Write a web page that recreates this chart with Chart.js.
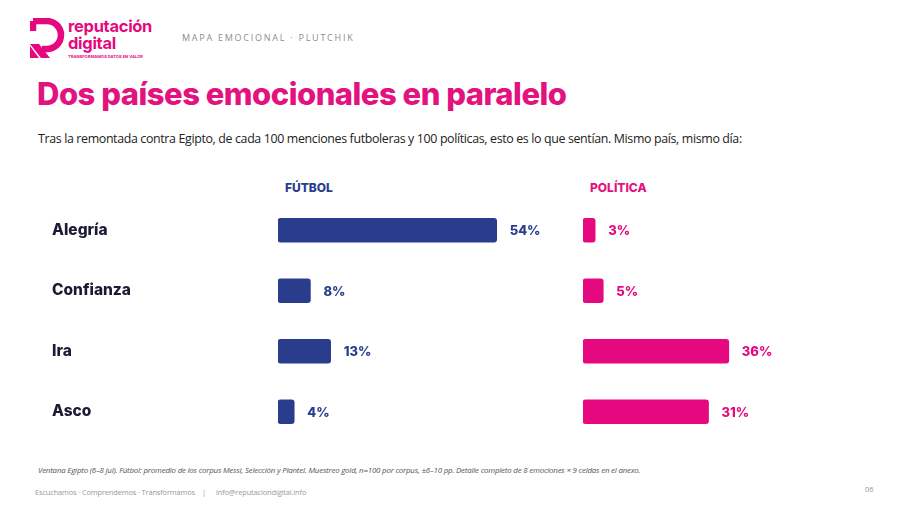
<!DOCTYPE html>
<html>
<head>
<meta charset="utf-8">
<script src="https://cdn.jsdelivr.net/npm/chart.js@4.4.1/dist/chart.umd.min.js"></script>
<style>
  html,body{margin:0;padding:0;background:#fff;}
  #page{position:relative;width:900px;height:505px;overflow:hidden;background:#fff;font-family:Inter,"Noto Sans",sans-serif;}
  .abs{position:absolute;white-space:nowrap;}
  #brand1{left:68px;top:17px;font:700 16.5px Inter,sans-serif;color:#e6087e;letter-spacing:-0.3px;line-height:18px;}
  #brand2{left:68px;top:34px;font:700 16.5px Inter,sans-serif;color:#e6087e;letter-spacing:-0.3px;line-height:18px;}
  #tag{left:68px;top:54px;font:700 4px Inter,sans-serif;color:#e6087e;letter-spacing:0.05px;}
  #kicker{left:182px;top:31px;font:400 9px "Open Sans",sans-serif;color:#8a8d93;letter-spacing:1.75px;}
  #title{left:37px;top:75px;font:800 31px Inter,sans-serif;color:#e2127f;letter-spacing:-0.5px;}
  #sub{left:38px;top:130px;font:400 12.4px "Open Sans",sans-serif;color:#222;letter-spacing:-0.35px;}
  #hf{left:285px;top:180px;font:800 12px Inter,sans-serif;color:#2a3d8c;}
  #hp{left:590px;top:180px;font:800 12px Inter,sans-serif;color:#e2127f;}
  #note{left:38px;top:465px;font:italic 400 7.9px "Open Sans",sans-serif;color:#555;letter-spacing:-0.2px;}
  .foot{top:487px;font:400 7.4px "Open Sans",sans-serif;color:#999;letter-spacing:-0.12px;}
  #pg{left:865px;top:484px;font:400 7.5px "Open Sans",sans-serif;color:#999;}
  #c1{position:absolute;left:0;top:200px;}
  #c2{position:absolute;left:560px;top:200px;}
</style>
</head>
<body>
<div id="page">
  <svg class="abs" style="left:30px;top:18px" width="36" height="42" viewBox="0 0 36 42">
    <path d="M3 3 H17 A14 14 0 0 1 17 31 H12" fill="none" stroke="#e6087e" stroke-width="6.5" stroke-linejoin="round"/>
    <path d="M3 3 V13" stroke="#e6087e" stroke-width="6.5"/>
    <path d="M0 26 L9 26 L20 40 L11 40 Z" fill="#e6087e"/>
    <path d="M0 28 V40 H9 Z" fill="#e6087e"/>
  </svg>
  <div class="abs" id="brand1">reputación</div>
  <div class="abs" id="brand2">digital</div>
  <div class="abs" id="tag">TRANSFORMAMOS DATOS EN VALOR</div>
  <div class="abs" id="kicker">MAPA EMOCIONAL · PLUTCHIK</div>
  <div class="abs" id="title">Dos países emocionales en paralelo</div>
  <div class="abs" id="sub">Tras la remontada contra Egipto, de cada 100 menciones futboleras y 100 políticas, esto es lo que sentían. Mismo país, mismo día:</div>
  <div class="abs" id="hf">FÚTBOL</div>
  <div class="abs" id="hp">POLÍTICA</div>
  <canvas id="c1" width="560" height="242"></canvas>
  <canvas id="c2" width="300" height="242"></canvas>
  <div class="abs" id="note">Ventana Egipto (6–8 jul). Fútbol: promedio de los corpus Messi, Selección y Plantel. Muestreo gold, n=100 por corpus, ±6–10 pp. Detalle completo de 8 emociones × 9 celdas en el anexo.</div>
  <div class="abs foot" style="left:35px">Escuchamos · Comprendemos · Transformamos</div>
  <div class="abs foot" style="left:202px">|</div>
  <div class="abs foot" style="left:216px">info@reputaciondigital.info</div>
  <div class="abs" id="pg">06</div>
</div>
<script>
const categories = ["Alegría", "Confianza", "Ira", "Asco"];
const futbolValues = [54, 8, 13, 4];
const politicaValues = [3, 5, 36, 31];
const valueLabelSuffix = "%";

const NAVY = "#2a3d8c";
const PINK = "#e6087e";

const valueLabels = {
  id: "valueLabels",
  afterDatasetsDraw(chart) {
    const ctx = chart.ctx;
    const ds = chart.data.datasets[0];
    const meta = chart.getDatasetMeta(0);
    ctx.save();
    ctx.font = "800 13px Inter, sans-serif";
    ctx.fillStyle = ds.labelColor;
    ctx.textBaseline = "middle";
    ctx.textAlign = "left";
    meta.data.forEach((bar, i) => {
      ctx.fillText(ds.data[i] + valueLabelSuffix, bar.x + 13, bar.y + 1);
    });
    ctx.restore();
  }
};

function makeChart(id, values, color, showLabels, padLeft, padRight) {
  return new Chart(document.getElementById(id), {
    type: "bar",
    data: {
      labels: categories,
      datasets: [{
        data: values,
        backgroundColor: color,
        labelColor: color,
        barThickness: 24,
        borderRadius: 3,
        borderSkipped: false
      }]
    },
    options: {
      indexAxis: "y",
      responsive: false,
      animation: false,
      layout: { padding: { left: padLeft, right: padRight, top: 0, bottom: 0 } },
      plugins: { legend: { display: false }, tooltip: { enabled: false } },
      scales: {
        x: { display: false, min: 0, max: 60 },
        y: {
          display: showLabels,
          grid: { display: false },
          border: { display: false },
          afterFit: showLabels ? (axis) => { axis.width = 226; axis.paddingTop = 0; axis.paddingBottom = 0; } : undefined,
          ticks: {
            crossAlign: "far",
            color: "#1b1b35",
            font: { family: "Inter, sans-serif", size: 15.5, weight: "800" }
          }
        }
      }
    },
    plugins: [valueLabels]
  });
}

makeChart("c1", futbolValues, NAVY, true, 52, 39);
makeChart("c2", politicaValues, PINK, false, 23, 34);
</script>
</body>
</html>
